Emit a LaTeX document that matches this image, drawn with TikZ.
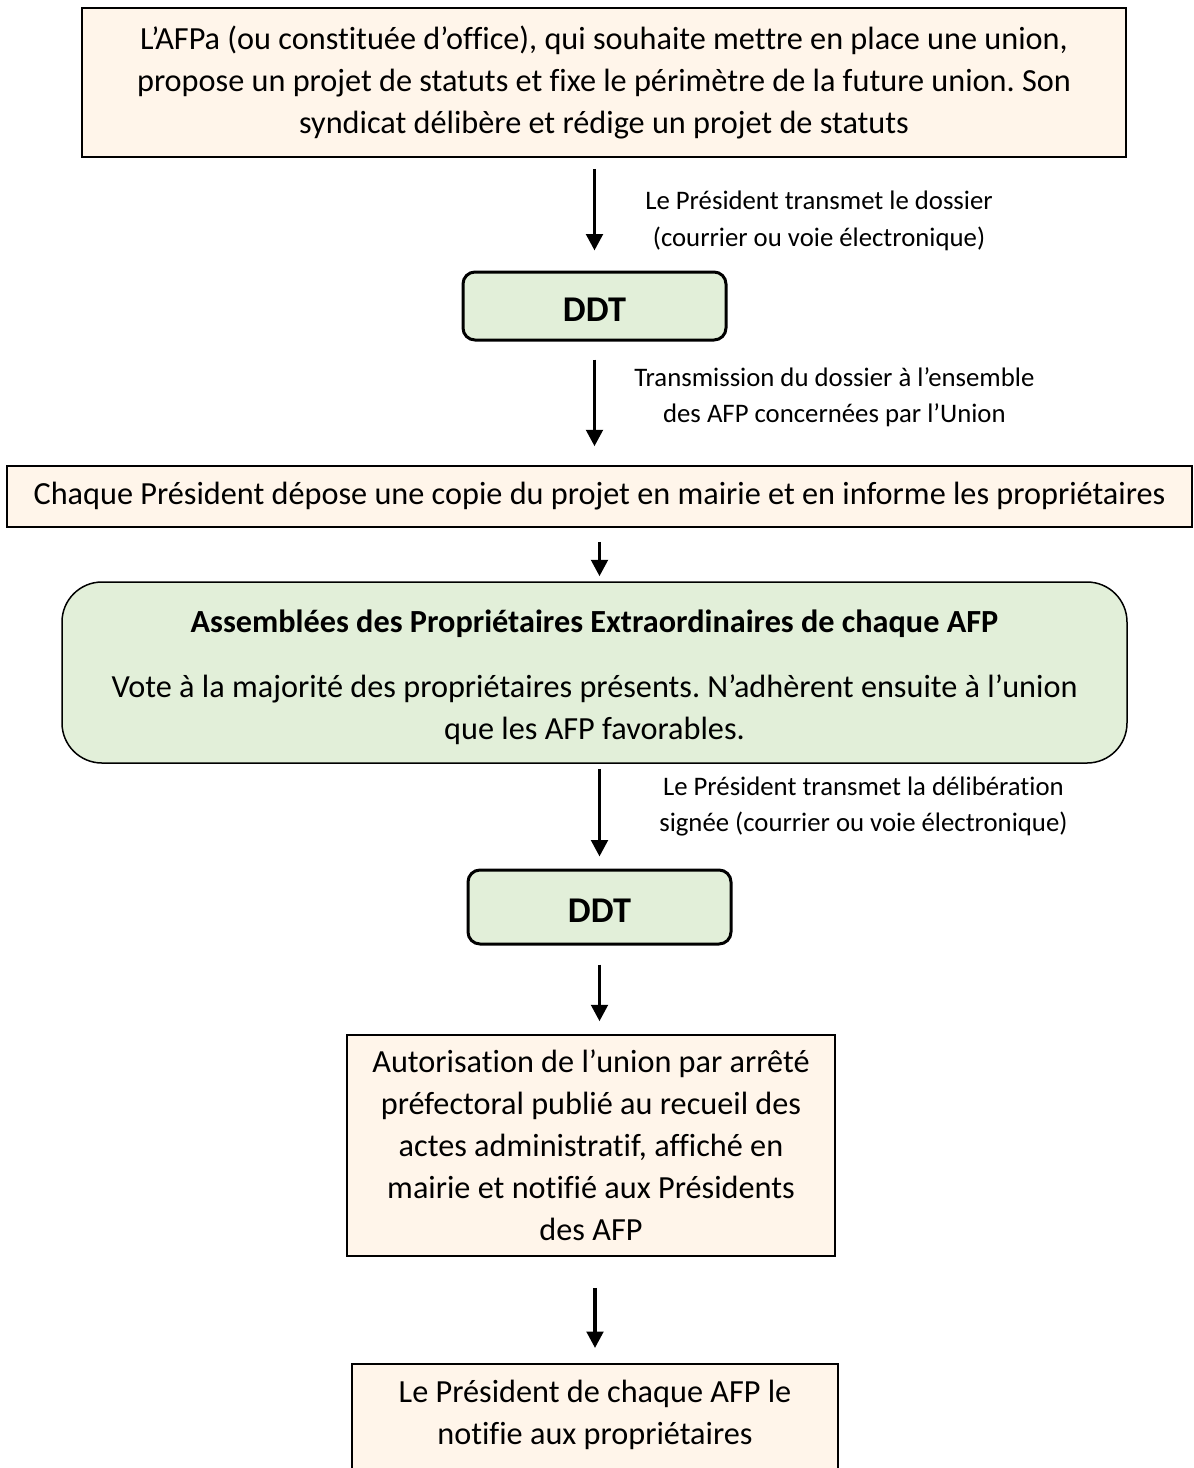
\documentclass[tikz,border=0pt]{standalone}
\usepackage{fontspec}
\setmainfont{Carlito}[Ligatures=CommonOff]
\usetikzlibrary{positioning, arrows.meta}
\frenchspacing
\newcommand{\pxu}{*0.4pt}
\definecolor{beigefill}{HTML}{FFF5EA}
\definecolor{greenfill}{HTML}{E2EFD9}
\tikzset{bodyfont/.style={font=\fontsize{12.9}{16.8}\selectfont}}
\tikzset{beigebox/.style={draw=black, line width=1.5\pxu, fill=beigefill, align=center, inner sep=0pt, bodyfont}}
\tikzset{greenbox/.style={draw=black, line width=1.5\pxu, rounded corners=40\pxu, fill=greenfill, align=center, inner sep=0pt, bodyfont}}
\tikzset{ddtbox/.style={draw=black, line width=3\pxu, rounded corners=12\pxu, fill=greenfill, minimum width=263\pxu, text height=12pt, font=\fontsize{14.5}{17}\selectfont\bfseries}}
\tikzset{arr/.style={draw, -{Triangle[length=6.6pt, width=6.6pt]}, line width=3.6\pxu}}
\tikzset{lbl/.style={align=center, inner sep=0pt, font=\fontsize{10.7}{14.5}\selectfont}}

\begin{document}
\begin{tikzpicture}[x=0.4pt, y=-0.4pt]
    \useasboundingbox (0,0) rectangle (1194,1468);
    % boites
    \node[beigebox, minimum width=1044\pxu, minimum height=149\pxu] (afpa) at (604,82.5)
        {L’AFPa (ou constituée d’office), qui souhaite mettre en place une union,\\
         propose un projet de statuts et fixe le périmètre de la future union. Son\\
         syndicat délibère et rédige un projet de statuts};
    \node[ddtbox, minimum height=68\pxu] (ddtA) at (594.5,306) {DDT};
    \node[beigebox, minimum width=1185\pxu, minimum height=61\pxu] (depot) at (599.5,496.5)
        {Chaque Président dépose une copie du projet en mairie et en informe les propriétaires};
    \node[greenbox, minimum width=1065\pxu, minimum height=181\pxu] (ape) at (594.5,672.5)
        {\rule{0pt}{13pt}\textbf{Assemblées des Propriétaires Extraordinaires de chaque AFP}\\[9.4pt]
         Vote à la majorité des propriétaires présents. N’adhèrent ensuite à l’union\\
         que les AFP favorables.};
    \node[ddtbox, minimum height=74\pxu] (ddtB) at (599.5,907) {DDT};
    \node[beigebox, minimum width=488\pxu, minimum height=221\pxu] (arrete) at (591,1145.5)
        {Autorisation de l’union par arrêté\\
         préfectoral publié au recueil des\\
         actes administratif, affiché en\\
         mairie et notifié aux Présidents\\
         des AFP};
    \node[beigebox, minimum width=486\pxu, anchor=north, inner ysep=16\pxu, text depth=60\pxu] (notif) at (595,1363)
        {Le Président de chaque AFP le\\
         notifie aux propriétaires};
    % fleches
    \draw[arr, shorten <=11\pxu, shorten >=20\pxu] (ddtA.north |- afpa.south) -- node[lbl, right=49\pxu, pos=0.56]
        {Le Président transmet le dossier\\ (courrier ou voie électronique)} (ddtA.north);
    \draw[arr, shorten <=18\pxu, shorten >=19\pxu] (ddtA.south) -- node[lbl, right=38\pxu, pos=0.45]
        {Transmission du dossier à l’ensemble\\ des AFP concernées par l’Union} (ddtA.south |- depot.north);
    \draw[arr, shorten <=14\pxu, shorten >=5\pxu] (depot.south) -- (depot.south |- ape.north);
    \draw[arr, shorten <=5\pxu, shorten >=12\pxu] (ddtB.north |- ape.south) -- node[lbl, right=58\pxu, pos=0.405]
        {Le Président transmet la délibération\\ signée (courrier ou voie électronique)} (ddtB.north);
    \draw[arr, shorten <=19\pxu, shorten >=13\pxu] (ddtB.south) -- (ddtB.south |- arrete.north);
    \draw[arr, shorten <=31\pxu, shorten >=15\pxu] (notif.north |- arrete.south) -- (notif.north);
\end{tikzpicture}
\end{document}
